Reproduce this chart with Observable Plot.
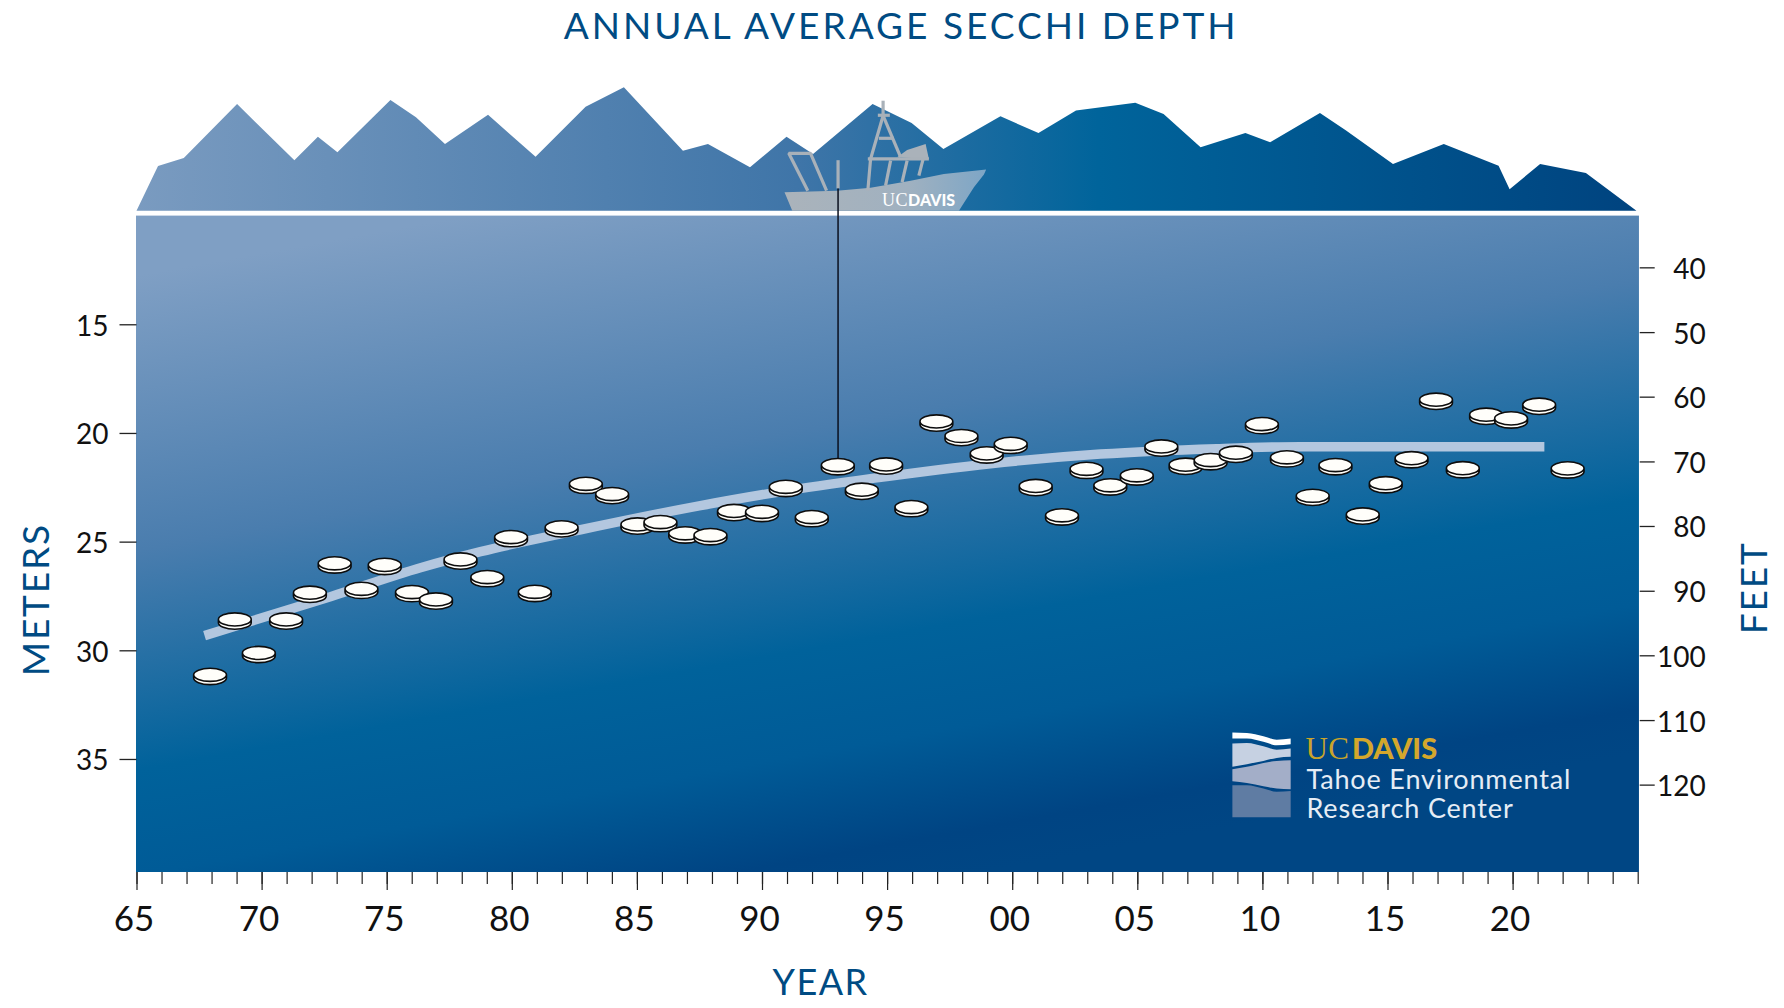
<!DOCTYPE html>
<html>
<head>
<meta charset="utf-8">
<script src="https://cdn.jsdelivr.net/npm/d3@7"></script>
<script src="https://cdn.jsdelivr.net/npm/@observablehq/plot@0.6"></script>
<style>
html,body{margin:0;padding:0;background:#fff}
svg{display:block}
</style>
</head>
<body>
<div id="chart"></div>
<script>
// Secchi discs
const discYears = [1967.92,1968.91,1969.87,1970.96,1971.91,1972.90,1973.97,1974.90,1975.99,1976.95,1977.93,1979.00,1979.95,1980.90,1981.97,1982.94,1983.99,1985.00,1985.92,1986.91,1987.92,1988.86,1989.98,1990.93,1991.97,1993.01,1993.97,1994.94,1995.95,1996.95,1997.95,1998.96,1999.92,2000.92,2001.97,2002.95,2003.90,2004.96,2005.94,2006.91,2007.91,2008.92,2009.96,2010.96,2011.99,2012.90,2013.99,2014.91,2015.94,2016.92,2017.99,2018.92,2019.92,2021.04,2022.18];
const discDepths = [31.18,28.63,30.17,28.63,27.40,26.05,27.22,26.12,27.37,27.71,25.87,26.68,24.84,27.36,24.39,22.39,22.86,24.26,24.15,24.67,24.75,23.64,23.68,22.53,23.92,21.53,22.66,21.50,23.46,19.52,20.19,20.99,20.55,22.49,23.84,21.70,22.46,22.00,20.67,21.51,21.30,20.96,19.64,21.17,22.94,21.53,23.80,22.36,21.21,18.52,21.67,19.21,19.38,18.75,21.68];

// Trend line
const trendYears = [1967.70,1972.73,1976.33,1978.73,1982.73,1987.52,1990.72,1994.32,1999.11,2003.51,2008.15,2011.50,2021.25];
const trendDepths = [29.30,27.51,26.18,25.44,24.43,23.32,22.68,22.08,21.39,20.95,20.70,20.61,20.61];

// Axes
const majorYears = [1965,1970,1975,1980,1985,1990,1995,2000,2005,2010,2015,2020];
const allYears = d3.range(1965, 2026);
const meterTicks = [15,20,25,30,35];
const feetTicks = [40,50,60,70,80,90,100,110,120];
const feetTickDepths = [12.38,15.36,18.33,21.31,24.28,27.26,30.23,33.21,36.18];

// Water and shoreline
const waterYears = [1964.98,2025.05];
const waterDepths = [10,40.2];
const mountainYears = [1965.0,1965.86,1966.89,1969.02,1971.31,1972.25,1973.03,1975.15,1976.17,1977.33,1979.05,1980.95,1982.95,1984.48,1986.84,1987.84,1989.52,1990.98,1992.04,1994.42,1995.98,1997.25,1999.53,2001.05,2002.55,2004.92,2006.05,2007.53,2009.32,2010.31,2012.30,2013.33,2015.22,2017.25,2019.44,2019.88,2021.10,2022.93,2024.95];
const mountainHeights = [9.78,7.72,7.35,4.87,7.45,6.37,7.08,4.68,5.47,6.70,5.36,7.29,4.99,4.10,7.02,6.71,7.77,6.37,7.17,4.87,5.74,6.94,5.43,6.20,5.16,4.81,5.33,6.86,6.20,6.62,5.28,6.07,7.62,6.71,7.71,8.79,7.62,8.04,9.78];
const mountainBase = 9.78;

// Boat
const hull = [[1990.88,8.90],[1992.98,8.83],[1994.32,8.70],[1995.92,8.37],[1997.25,8.06],[1998.94,7.86],[1998.85,8.09],[1998.45,8.67],[1997.85,9.75],[1991.19,9.75]];
const cabin = [[1995.38,7.29],[1995.78,6.96],[1996.52,6.68],[1996.65,7.37]];
const rigging = [
  [[1991.81,8.83],[1991.05,7.11],[1991.92,7.11],[1992.56,8.83]],
  [[1994.82,4.69],[1994.82,5.38]],
  [[1994.61,5.36],[1995.09,5.36]],
  [[1994.82,5.38],[1994.32,7.37],[1994.21,8.83]],
  [[1994.82,5.38],[1995.52,7.29]],
  [[1994.65,6.42],[1995.25,6.42]],
  [[1994.21,7.37],[1996.65,7.37]],
  [[1995.12,7.45],[1994.92,8.60]],
  [[1995.78,7.45],[1995.58,8.44]],
  [[1996.42,7.37],[1996.25,8.14]]
];
const lineYear = 1993.02;
const lineTop = 7.45, lineWater = 8.75, lineBottom = 21.53;

// Logo bands
const logoYears = [2008.80,2009.38,2010.04,2010.57,2011.13];
const logoBands = [
  {fill:"#ffffff", top:[33.78,33.80,33.95,34.11,34.06], bottom:[34.06,34.06,34.21,34.37,34.32]},
  {fill:"#c6d1e2", top:[34.29,34.26,34.41,34.57,34.52], bottom:[35.36,35.24,35.09,34.95,34.90]},
  {fill:"#a3aec8", top:[35.47,35.36,35.18,35.09,35.06], bottom:[36.02,36.10,36.25,36.36,36.39]},
  {fill:"#5f7ca3", top:[36.21,36.21,36.36,36.51,36.47], bottom:[37.68,37.68,37.68,37.68,37.68]}
];

// Texts
const labels = [
  {text:"ANNUAL AVERAGE SECCHI DEPTH", year:1995.54, depth:1.83, size:37, fill:"#004b83", weight:400, family:"Lato", anchor:"middle", line:"bottom", rotate:0, spacing:"3px"},
  {text:"YEAR", year:1992.32, depth:45.83, size:36, fill:"#004b83", weight:400, family:"Lato", anchor:"middle", line:"bottom", rotate:0, spacing:"1.5px"},
  {text:"METERS", year:1961.0, depth:27.65, size:37, fill:"#004b83", weight:400, family:"Lato", anchor:"middle", line:"middle", rotate:-90, spacing:"1.8px"},
  {text:"FEET", year:2029.69, depth:27.10, size:37, fill:"#004b83", weight:400, family:"Lato", anchor:"middle", line:"middle", rotate:-90, spacing:"1.8px"},
  {text:"UC", year:1994.78, depth:9.55, size:18, fill:"#ffffff", weight:400, family:"Liberation Serif", anchor:"start", line:"bottom", rotate:0, spacing:"0.5px"},
  {text:"DAVIS", year:1995.82, depth:9.55, size:16, fill:"#ffffff", weight:900, family:"Lato", anchor:"start", line:"bottom", rotate:0, spacing:"0"},
  {text:"UC", year:2011.70, depth:34.98, size:31, fill:"#c9a42a", weight:400, family:"Liberation Serif", anchor:"start", line:"bottom", rotate:0, spacing:"0.5px"},
  {text:"DAVIS", year:2013.56, depth:34.98, size:29, fill:"#d4a72c", weight:900, family:"Lato", anchor:"start", line:"bottom", rotate:0, spacing:"0"},
  {text:"Tahoe Environmental", year:2011.74, depth:36.35, size:27, fill:"#e6edf5", weight:400, family:"Lato", anchor:"start", line:"bottom", rotate:0, spacing:"0.85px"},
  {text:"Research Center", year:2011.74, depth:37.67, size:27, fill:"#e6edf5", weight:400, family:"Lato", anchor:"start", line:"bottom", rotate:0, spacing:"0.85px"}
];

const discs = discYears.map((year,i)=>({year, depth:discDepths[i]}));
const trend = trendYears.map((year,i)=>({year, depth:trendDepths[i]}));
const mountains = mountainYears.map((year,i)=>({year, height:mountainHeights[i]}));

const discSymbol = {
  draw(c, size){
    const rx = Math.sqrt(size/Math.PI), ry = rx*0.4, k = 0.5523, t = 3.2, o = -1.6;
    // silhouette of the disc
    c.moveTo(-rx, o);
    c.lineTo(-rx, o+t);
    c.bezierCurveTo(-rx, o+t+k*ry, -k*rx, o+t+ry, 0, o+t+ry);
    c.bezierCurveTo(k*rx, o+t+ry, rx, o+t+k*ry, rx, o+t);
    c.lineTo(rx, o);
    c.bezierCurveTo(rx, o-k*ry, k*rx, o-ry, 0, o-ry);
    c.bezierCurveTo(-k*rx, o-ry, -rx, o-k*ry, -rx, o);
    c.closePath();
    // front rim of the top face
    c.moveTo(-rx, o);
    c.bezierCurveTo(-rx, o+k*ry, -k*rx, o+ry, 0, o+ry);
    c.bezierCurveTo(k*rx, o+ry, rx, o+k*ry, rx, o);
  }
};

const gradients = () => {
  const d = document.createElementNS("http://www.w3.org/2000/svg","defs");
  d.innerHTML = `
  <linearGradient id="water" gradientUnits="userSpaceOnUse" x1="500" y1="210" x2="631" y2="936">
    <stop offset="0" stop-color="#7f9fc4"/><stop offset="0.367" stop-color="#4a7dae"/>
    <stop offset="0.66" stop-color="#00629b"/><stop offset="0.8" stop-color="#005b97"/>
    <stop offset="0.94" stop-color="#004483"/><stop offset="1" stop-color="#004684"/>
  </linearGradient>
  <linearGradient id="land" gradientUnits="userSpaceOnUse" x1="136" y1="0" x2="1640" y2="0">
    <stop offset="0" stop-color="#7a9bc0"/><stop offset="0.44" stop-color="#3f75a8"/>
    <stop offset="0.64" stop-color="#00649b"/><stop offset="1" stop-color="#00437f"/>
  </linearGradient>
  <linearGradient id="boat" gradientUnits="userSpaceOnUse" x1="790" y1="0" x2="985" y2="0">
    <stop offset="0" stop-color="#aab3bb"/><stop offset="0.6" stop-color="#a0b1c0"/><stop offset="1" stop-color="#7ea6c6"/>
  </linearGradient>`;
  return d;
};

const tickColor = "#222";
const yearFmt = d => String(d % 100).padStart(2,"0");

const plot = Plot.plot({
  width:1784, height:1008,
  marginTop:0, marginBottom:136, marginLeft:136.5, marginRight:146.3,
  style:{background:"#fff", fontFamily:"Lato", overflow:"visible"},
  x:{domain:[1965,2025], label:null},
  y:{domain:[0.08,40.2], range:[0,872], label:null},
  marks:[
    gradients,
    Plot.rect([{}],{x1:()=>waterYears[0], x2:()=>waterYears[1], y1:()=>waterDepths[0], y2:()=>waterDepths[1], fill:"url(#water)"}),
    Plot.areaY(mountains,{x:"year", y1:()=>mountainBase, y2:"height", fill:"url(#land)"}),
    // boat
    Plot.line(hull,{x:d=>d[0], y:d=>d[1], fill:"url(#boat)", stroke:"none"}),
    Plot.line(cabin,{x:d=>d[0], y:d=>d[1], fill:"#aab2ba", stroke:"none"}),
    ...rigging.map(r=>Plot.line(r,{x:d=>d[0], y:d=>d[1], stroke:"#a9b1b9", strokeWidth:3.2, strokeLinecap:"butt", strokeLinejoin:"miter"})),
    Plot.ruleX([lineYear],{y1:()=>lineTop, y2:()=>lineWater, stroke:"#a9b1b9", strokeWidth:3.2}),
    // sounding line, trend, discs
    Plot.ruleX([lineYear],{y1:()=>lineWater, y2:()=>lineBottom, stroke:"#0a0f1e", strokeWidth:1.5}),
    Plot.line(trend,{x:"year", y:"depth", stroke:"#b3c7df", strokeWidth:9.5, curve:"monotone-x", strokeLinecap:"butt", strokeLinejoin:"round"}),
    Plot.dot(discs,{x:"year", y:"depth", r:16.4, symbol:discSymbol, fill:"#fffefa", stroke:"#0d0d0d", strokeWidth:1.6}),
    // logo bands
    ...logoBands.map(b=>Plot.areaY(logoYears.map((year,i)=>({year, top:b.top[i], bottom:b.bottom[i]})),{x:"year", y1:"top", y2:"bottom", fill:b.fill, curve:"monotone-x"})),
    // axes
    Plot.axisX(allYears,{tickSize:12, fill:"none", label:null, stroke:tickColor, strokeWidth:1.2}),
    Plot.axisX(majorYears,{tickSize:18, fill:"none", label:null, stroke:tickColor, strokeWidth:1.2}),
    Plot.axisX(majorYears,{tickSize:0, tickPadding:34, label:null, fill:"#111", fontSize:35, tickFormat:yearFmt, dx:-3}),
    Plot.axisY(meterTicks,{anchor:"left", tickSize:17, fill:"none", label:null, stroke:tickColor, strokeWidth:1.3}),
    Plot.axisY(meterTicks,{anchor:"left", tickSize:0, tickPadding:28.5, label:null, fill:"#111", fontSize:28, dy:2, tickFormat:d=>String(d)}),
    Plot.axisY(feetTickDepths,{anchor:"right", tickSize:15, fill:"none", label:null, stroke:tickColor, strokeWidth:1.3, dx:1}),
    Plot.axisY(feetTickDepths,{anchor:"right", tickSize:0, tickPadding:67.5, textAnchor:"end", label:null, fill:"#111", fontSize:28, dy:2, tickFormat:(d,i)=>String(feetTicks[i])}),
    // texts
    ...labels.map(l=>Plot.text([l],{x:"year", y:"depth", text:"text", fontSize:l.size, fill:l.fill, fontWeight:l.weight, fontFamily:l.family, textAnchor:l.anchor, lineAnchor:l.line, rotate:l.rotate}))
  ]
});

// letter spacing is not a mark option, so it is set on the finished text nodes
const spacingByText = new Map(labels.map(l=>[l.text+"|"+l.size, l.spacing]));
d3.select(plot).selectAll("text").each(function(){
  const fs = this.parentNode.getAttribute("font-size") || this.getAttribute("font-size");
  const s = spacingByText.get(this.textContent+"|"+fs);
  if (s) this.style.letterSpacing = s;
});
document.getElementById("chart").append(plot);
</script>
</body>
</html>
